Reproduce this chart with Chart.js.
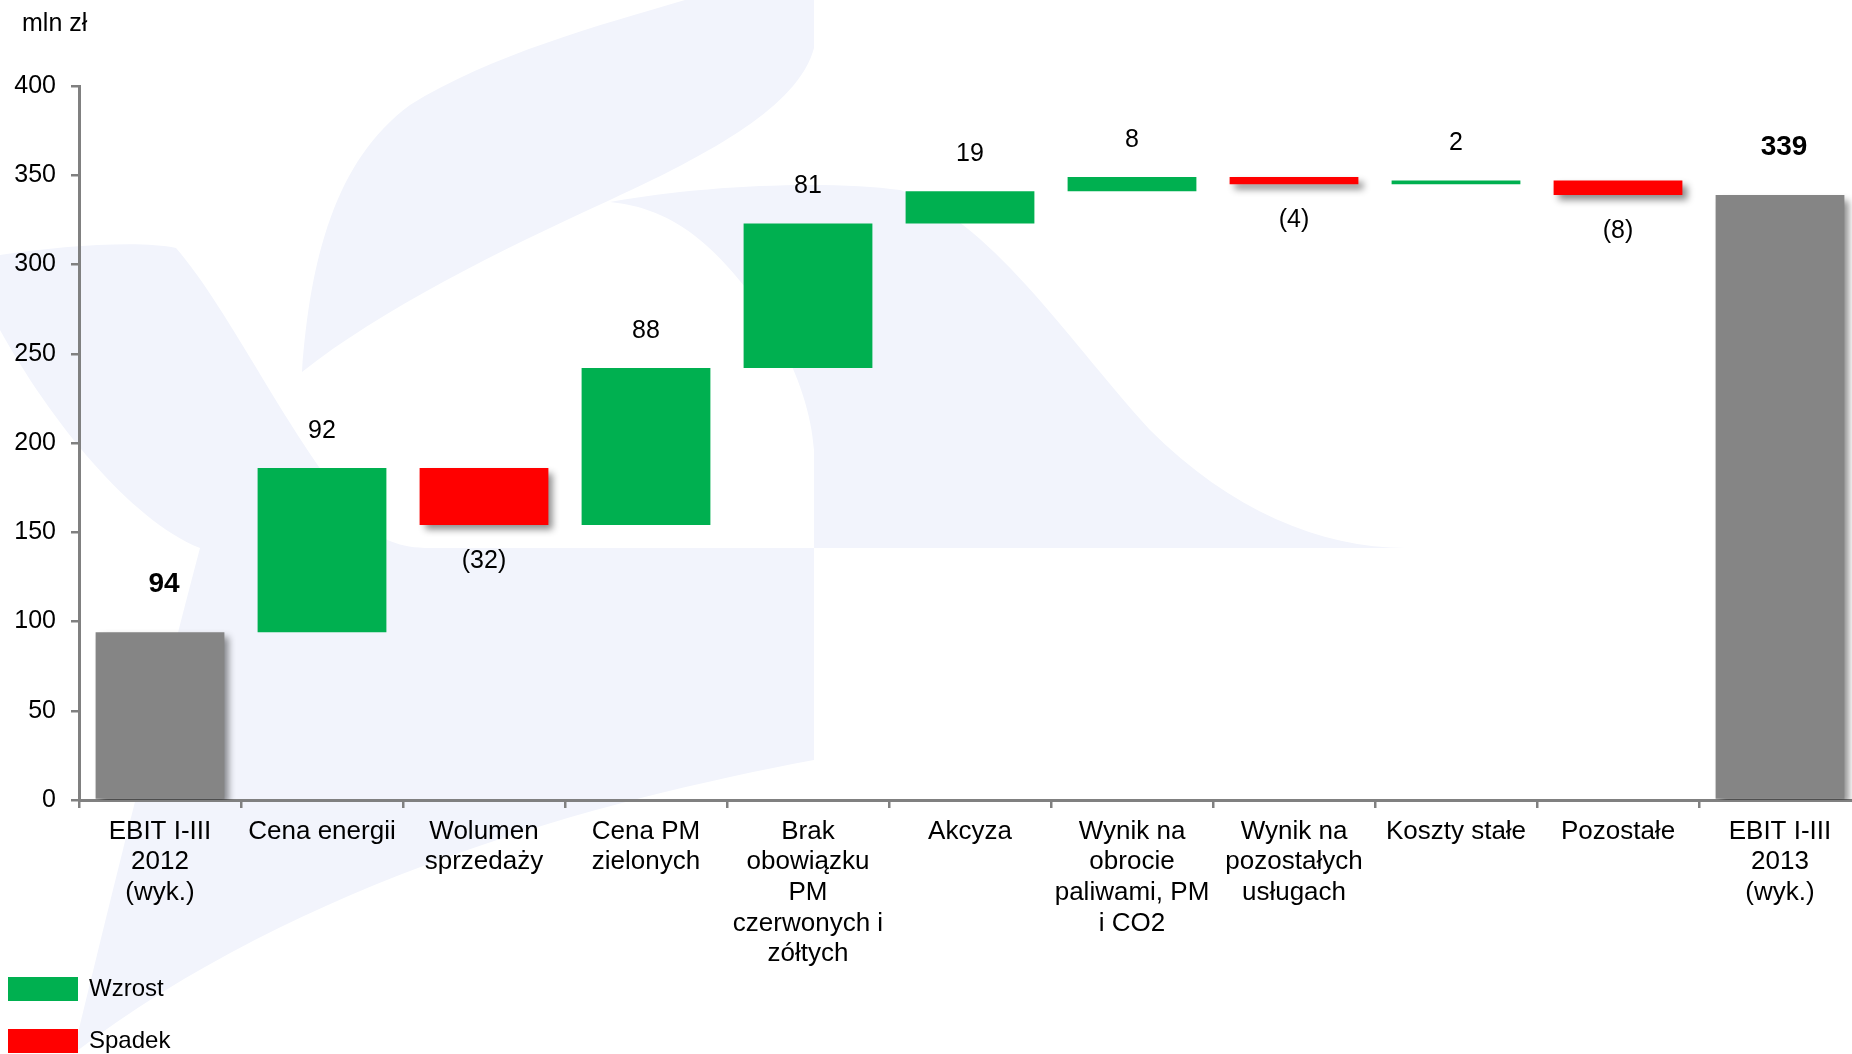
<!DOCTYPE html>
<html lang="pl">
<head>
<meta charset="utf-8">
<title>EBIT I-III 2012 - 2013</title>
<script src="https://cdn.jsdelivr.net/npm/chart.js@4/dist/chart.umd.min.js"></script>
<style>
  html, body { margin: 0; padding: 0; background: #fff; overflow: hidden; }
  #wrap { width: 1870px; height: 1054px; position: relative; }
</style>
</head>
<body>
<div id="wrap"><canvas id="chart"></canvas></div>
<script>
const categories = [
  ["EBIT I-III", "2012", "(wyk.)"],
  "Cena energii",
  ["Wolumen", "sprzedaży"],
  ["Cena PM", "zielonych"],
  ["Brak", "obowiązku", "PM", "czerwonych i", "zółtych"],
  "Akcyza",
  ["Wynik na", "obrocie", "paliwami, PM", "i CO2"],
  ["Wynik na", "pozostałych", "usługach"],
  "Koszty stałe",
  "Pozostałe",
  ["EBIT I-III", "2013", "(wyk.)"],
];
const barLow = [0, 94, 154, 154, 242, 323, 341, 345, 345, 339, 0];
const barHigh = [94, 186, 186, 242, 323, 341, 349, 349, 347, 347, 339];
const barKind = ["total", "up", "down", "up", "up", "up", "up", "down", "up", "down", "total"];
const valueLabels = ["94", "92", "(32)", "88", "81", "19", "8", "(4)", "2", "(8)", "339"];
const legendNames = ["Wzrost", "Spadek"];
const yMin = 0, yMax = 400, yStep = 50;

const COLORS = { up: "#00b050", down: "#ff0000", total: "#858585" };
const FONT = "'Liberation Sans', Arial, sans-serif";

// floating bars: shadowed ones (totals, decreases) and plain ones (increases)
const range = (i) => [barLow[i], barHigh[i]];
const shadowData = categories.map((_, i) => (barKind[i] === "up" ? null : range(i)));
const plainData = categories.map((_, i) => (barKind[i] === "up" ? range(i) : null));

const watermark = {
  id: "watermark",
  beforeDraw(chart) {
    const ctx = chart.ctx;
    ctx.save();
    ctx.fillStyle = "#f2f4fc";
    // top blade
    ctx.beginPath();
    ctx.moveTo(685, 0);
    ctx.lineTo(814, 0);
    ctx.lineTo(814, 48);
    ctx.bezierCurveTo(800, 100, 730, 145, 610, 200);
    ctx.bezierCurveTo(500, 250, 380, 310, 302, 372);
    ctx.bezierCurveTo(310, 260, 335, 160, 410, 105);
    ctx.bezierCurveTo(490, 55, 600, 25, 685, 0);
    ctx.fill();
    // left leaf
    ctx.beginPath();
    ctx.moveTo(0, 255);
    ctx.bezierCurveTo(60, 246, 140, 240, 176, 248);
    ctx.bezierCurveTo(230, 310, 290, 440, 360, 520);
    ctx.bezierCurveTo(380, 540, 400, 548, 430, 548);
    ctx.lineTo(200, 548);
    ctx.bezierCurveTo(130, 520, 50, 420, 0, 330);
    ctx.fill();
    // right body
    ctx.beginPath();
    ctx.moveTo(610, 202);
    ctx.bezierCurveTo(700, 185, 830, 180, 900, 190);
    ctx.bezierCurveTo(990, 220, 1060, 330, 1150, 430);
    ctx.bezierCurveTo(1230, 510, 1320, 548, 1406, 548);
    ctx.lineTo(814, 548);
    ctx.lineTo(814, 450);
    ctx.bezierCurveTo(810, 380, 760, 290, 700, 240);
    ctx.bezierCurveTo(670, 215, 640, 205, 610, 202);
    ctx.fill();
    // lower band
    ctx.beginPath();
    ctx.moveTo(73, 1054);
    ctx.bezierCurveTo(110, 900, 160, 700, 200, 548);
    ctx.lineTo(814, 548);
    ctx.lineTo(814, 760);
    ctx.bezierCurveTo(600, 800, 300, 880, 73, 1054);
    ctx.fill();
    ctx.restore();
  },
};

// tick labels of the y axis reach left of the padded area; widen the label clip
const unclipY = {
  id: "unclipY",
  afterLayout(chart) {
    chart.scales.y.left = 0;
  },
};

const barShadow = {
  id: "barShadow",
  beforeDatasetDraw(chart, args) {
    if (args.index !== 0) return;
    const ctx = chart.ctx;
    ctx.save();
    ctx.shadowColor = "rgba(0,0,0,0.45)";
    ctx.shadowBlur = 7;
    ctx.shadowOffsetX = 5;
    ctx.shadowOffsetY = 5;
  },
  afterDatasetDraw(chart, args) {
    if (args.index !== 0) return;
    chart.ctx.restore();
  },
};

const valueTags = {
  id: "valueTags",
  afterDatasetsDraw(chart) {
    const ctx = chart.ctx;
    ctx.save();
    ctx.fillStyle = "#000";
    ctx.textAlign = "center";
    ctx.textBaseline = "middle";
    categories.forEach((_, i) => {
      const dsIndex = barKind[i] === "up" ? 1 : 0;
      const bar = chart.getDatasetMeta(dsIndex).data[i];
      if (!bar) return;
      const { x, y, base } = bar.getProps(["x", "y", "base"], true);
      const top = Math.min(y, base);
      const bottom = Math.max(y, base);
      if (barKind[i] === "total") {
        ctx.font = `bold 28px ${FONT}`;
        ctx.fillText(valueLabels[i], x + 4, top - 48);
      } else if (barKind[i] === "down") {
        ctx.font = `25px ${FONT}`;
        ctx.fillText(valueLabels[i], x, bottom + 36);
      } else {
        ctx.font = `25px ${FONT}`;
        ctx.fillText(valueLabels[i], x, top - 37);
      }
    });
    ctx.restore();
  },
};

const sideLegend = {
  id: "sideLegend",
  afterDraw(chart) {
    const ctx = chart.ctx;
    const colors = [COLORS.up, COLORS.down];
    ctx.save();
    ctx.font = `24px ${FONT}`;
    ctx.textBaseline = "middle";
    ctx.textAlign = "left";
    legendNames.forEach((name, k) => {
      const top = 977 + k * 52;
      ctx.fillStyle = colors[k];
      ctx.fillRect(8, top, 70, 24);
      ctx.fillStyle = "#000";
      ctx.fillText(name, 89, top + 12);
    });
    ctx.restore();
  },
};

new Chart(document.getElementById("chart"), {
  type: "bar",
  data: {
    labels: categories,
    datasets: [
      {
        label: "spadek / suma",
        data: shadowData,
        backgroundColor: categories.map((_, i) => COLORS[barKind[i]]),
        borderWidth: 0,
      },
      {
        label: "wzrost",
        data: plainData,
        backgroundColor: COLORS.up,
        borderWidth: 0,
      },
    ],
  },
  options: {
    responsive: true,
    maintainAspectRatio: false,
    animation: false,
    layout: { padding: { left: 22, right: 9, top: 0, bottom: 0 } },
    datasets: {
      bar: { grouped: false, categoryPercentage: 1, barPercentage: 0.795 },
    },
    plugins: {
      legend: { display: false },
      tooltip: { enabled: false },
      title: {
        display: true,
        text: "mln zł",
        align: "start",
        color: "#000",
        font: { family: FONT, size: 25, weight: "normal", lineHeight: 1.2 },
        padding: { top: 9, bottom: 47 },
      },
    },
    scales: {
      x: {
        grid: {
          drawOnChartArea: false,
          offset: true,
          color: "#808080",
          lineWidth: 2.5,
          tickLength: 8,
        },
        border: { color: "#808080", width: 3 },
        ticks: {
          color: "#000",
          autoSkip: false,
          maxRotation: 0,
          minRotation: 0,
          padding: 8,
          font: { family: FONT, size: 26, lineHeight: 1.18 },
        },
        afterFit(scale) {
          scale.height = 254;
        },
      },
      y: {
        min: yMin,
        max: yMax,
        grid: {
          drawOnChartArea: false,
          color: "#808080",
          lineWidth: 2.5,
          tickLength: 8,
        },
        border: { color: "#808080", width: 3 },
        ticks: {
          stepSize: yStep,
          color: "#000",
          padding: 15,
          font: { family: FONT, size: 25 },
        },
        afterFit(scale) {
          scale.width = 57;
        },
      },
    },
  },
  plugins: [watermark, unclipY, barShadow, valueTags, sideLegend],
});
</script>
</body>
</html>
